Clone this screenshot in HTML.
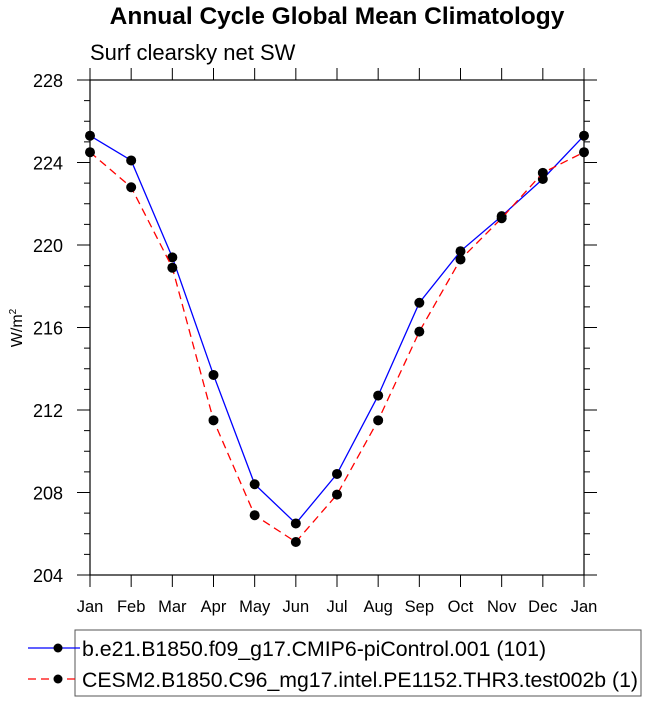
<!DOCTYPE html>
<html><head><meta charset="utf-8"><style>
body{margin:0;background:#fff;width:648px;height:703px;overflow:hidden;font-family:"Liberation Sans",sans-serif}
</style></head><body>
<svg id="chart" width="648" height="703" xmlns="http://www.w3.org/2000/svg" font-family="Liberation Sans, sans-serif">
<text x="337" y="24" text-anchor="middle" font-size="24.5" font-weight="bold">Annual Cycle Global Mean Climatology</text>
<text x="90" y="60" font-size="22">Surf clearsky net SW</text>
<text transform="translate(22,328) rotate(-90)" text-anchor="middle" font-size="16">W/m<tspan dy="-6" font-size="10">2</tspan></text>
<g id="axes"></g>
<g id="series"></g>
<g>
<rect x="75" y="630" width="566" height="66" fill="none" stroke="#555" stroke-width="1"/>
<line x1="28" y1="648" x2="80" y2="648" stroke="#0000ff" stroke-width="1.3"/>
<circle cx="58" cy="648" r="4.5" fill="#000"/>
<text x="82" y="656" font-size="21.3">b.e21.B1850.f09_g17.CMIP6-piControl.001 (101)</text>
<line x1="28" y1="679" x2="80" y2="679" stroke="#ff0000" stroke-width="1.3" stroke-dasharray="8,5"/>
<circle cx="58" cy="679" r="4.5" fill="#000"/>
<text x="82" y="687" font-size="21.3" textLength="556" lengthAdjust="spacingAndGlyphs">CESM2.B1850.C96_mg17.intel.PE1152.THR3.test002b (1)</text>
</g>
</svg>
<script>
const months=["Jan","Feb","Mar","Apr","May","Jun","Jul","Aug","Sep","Oct","Nov","Dec","Jan"];
const controlValues=[225.3,224.1,219.4,213.7,208.4,206.5,208.9,212.7,217.2,219.7,221.4,223.2,225.3];
const testValues=[224.5,222.8,218.9,211.5,206.9,205.6,207.9,211.5,215.8,219.3,221.3,223.5,224.5];
const yTicks=[204,208,212,216,220,224,228];
const L=90,R=584,T=80,B=575,yMin=204,yMax=228;
const NS="http://www.w3.org/2000/svg";
const xS=i=>L+(R-L)*i/(months.length-1);
const yS=v=>B-(v-yMin)/(yMax-yMin)*(B-T);
function mk(tag,attrs,parent){const e=document.createElementNS(NS,tag);for(const k in attrs)e.setAttribute(k,attrs[k]);parent.appendChild(e);return e;}
const ax=document.getElementById('axes');
const frame=mk('rect',{x:L,y:T,width:R-L,height:B-T,fill:'none',stroke:'#000','stroke-width':1.2},ax);


for(let v=yMin;v<=yMax;v++){
  const y=yS(v);const major=(v-yMin)%4===0;const len=major?13:6;
  mk('line',{x1:L-len,y1:y,x2:L,y2:y,stroke:'#000','stroke-width':1},ax);
  mk('line',{x1:R,y1:y,x2:R+len,y2:y,stroke:'#000','stroke-width':1},ax);
}
yTicks.forEach(v=>{
  const t=mk('text',{x:L-27,y:yS(v)+7,'text-anchor':'end','font-size':18},ax);
  t.textContent=v;
  
  
});
months.forEach((m,i)=>{
  const x=xS(i);
  mk('line',{x1:x,y1:B,x2:x,y2:B+12,stroke:'#000','stroke-width':1},ax);
  mk('line',{x1:x,y1:T-12,x2:x,y2:T,stroke:'#000','stroke-width':1},ax);
  const t=mk('text',{x:x,y:B+37,'text-anchor':'middle','font-size':16.5},ax);
  t.textContent=m;
  
  
});
const sg=document.getElementById('series');
function draw(vals,color,dash,name){
  const p=mk('polyline',{points:vals.map((v,i)=>xS(i)+','+yS(v)).join(' '),fill:'none',stroke:color,'stroke-width':1.3,'stroke-dasharray':dash},sg);
  
  
  vals.forEach((v,i)=>{
    const c=mk('circle',{cx:xS(i),cy:yS(v),r:5,fill:'#000'},sg);
    
    
  });
}
draw(controlValues,'#0000ff','none','control');
draw(testValues,'#ff0000','8,5','test');
</script>
</body></html>
